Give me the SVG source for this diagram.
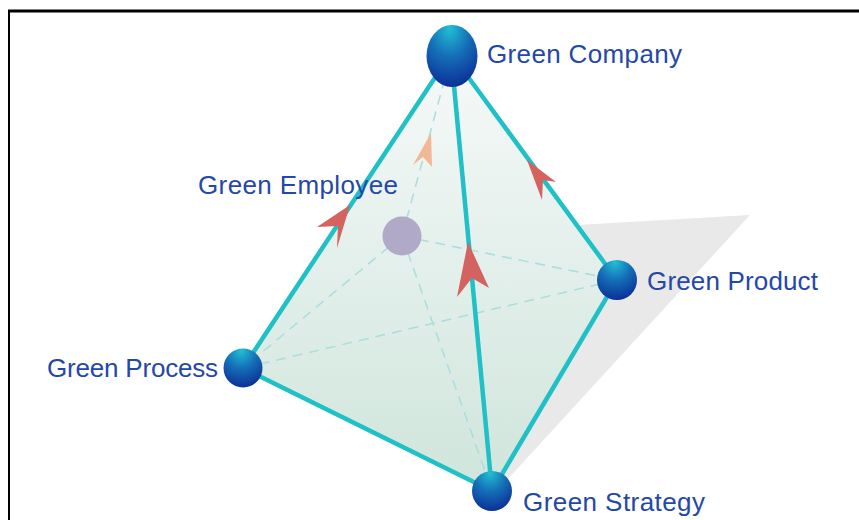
<svg xmlns="http://www.w3.org/2000/svg" width="859" height="520" viewBox="0 0 859 520">
<defs>
<linearGradient id="face" x1="0" y1="0" x2="0" y2="1">
<stop offset="0" stop-color="#f6f9f8"/>
<stop offset="1" stop-color="#cfe5dc"/>
</linearGradient>
<radialGradient id="ball" cx="0.45" cy="0.2" r="0.85" fx="0.45" fy="0.05">
<stop offset="0" stop-color="#22c0d2"/>
<stop offset="0.45" stop-color="#1570b8"/>
<stop offset="1" stop-color="#0a2a94"/>
</radialGradient>
<style>
.edge{stroke:#1fc0c6;stroke-width:4.5;fill:none;stroke-linecap:round}
.dash{stroke:#a8dede;stroke-width:1.5;fill:none;stroke-dasharray:10 7}
.arrow{fill:#d4625e}
.lbl{font-family:"Liberation Sans",Arial,sans-serif;font-size:26px;fill:#2448a8}
</style>
</defs>
<rect x="0" y="0" width="859" height="520" fill="#ffffff"/>
<line x1="8" y1="11" x2="859" y2="11" stroke="#000" stroke-width="3"/>
<line x1="9" y1="11" x2="9" y2="520" stroke="#000" stroke-width="2"/>
<polygon points="560,226 750,215 505,482 470,430" fill="#e9e9e9"/>
<polygon points="450,55 243,368 492,491 617,280" fill="url(#face)"/>
<g id="connectors">
<line class="dash" x1="402" y1="236" x2="450" y2="60"/>
<line class="dash" x1="402" y1="236" x2="243" y2="368"/>
<line class="dash" x1="402" y1="236" x2="617" y2="280"/>
<line class="dash" x1="402" y1="236" x2="492" y2="491"/>
<line class="dash" x1="243" y1="368" x2="617" y2="280"/>
<line class="edge" x1="440" y1="70" x2="243" y2="368"/>
<line class="edge" x1="453" y1="75" x2="492" y2="491"/>
<line class="edge" x1="463" y1="70" x2="617" y2="280"/>
<line class="edge" x1="243" y1="368" x2="492" y2="491"/>
<line class="edge" x1="617" y1="280" x2="492" y2="491"/>
<polygon class="arrow" points="350,205 337,248 338,226 317,227"/>
<polygon points="431,133 432,167 423,157 413,165" fill="#f2b896"/>
<polygon class="arrow" points="468,242 489,288 472,278 457,297"/>
<polygon class="arrow" points="527,160 556,182 543,180 542,200"/>
</g>
<g id="green-employee">
<circle cx="402" cy="236" r="19.5" fill="#b0a9c8"/>
<text class="lbl" x="198" y="194" textLength="200" lengthAdjust="spacing">Green Employee</text>
</g>
<g id="green-company">
<ellipse cx="452" cy="56" rx="25.5" ry="31" fill="url(#ball)"/>
<text class="lbl" x="487" y="63" textLength="195" lengthAdjust="spacing">Green Company</text>
</g>
<g id="green-process">
<circle cx="243" cy="368" r="19.5" fill="url(#ball)"/>
<text class="lbl" x="47" y="377" textLength="171" lengthAdjust="spacing">Green Process</text>
</g>
<g id="green-product">
<circle cx="617" cy="280" r="20" fill="url(#ball)"/>
<text class="lbl" x="647" y="290" textLength="171" lengthAdjust="spacing">Green Product</text>
</g>
<g id="green-strategy">
<circle cx="492" cy="491" r="20" fill="url(#ball)"/>
<text class="lbl" x="523" y="511" textLength="182" lengthAdjust="spacing">Green Strategy</text>
</g>
</svg>
